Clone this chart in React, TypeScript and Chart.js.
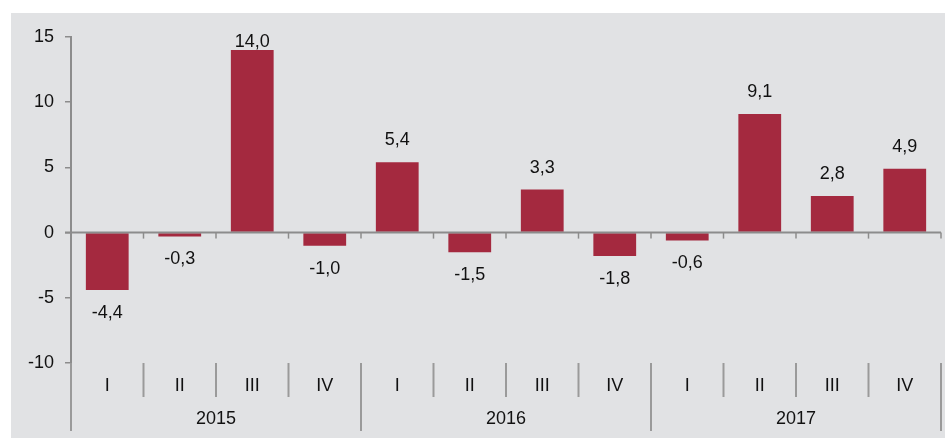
import React, { useEffect, useRef } from "react";
import { Chart, registerables } from "chart.js";

Chart.register(...registerables);

const years: string[] = ["2015", "2016", "2017"];
const quarters: string[] = ["I", "II", "III", "IV"];
const values: number[] = [-4.4, -0.3, 14.0, -1.0, 5.4, -1.5, 3.3, -1.8, -0.6, 9.1, 2.8, 4.9];
const yTicks: number[] = [-10, -5, 0, 5, 10, 15];

const FONT = '"Liberation Sans", Arial, Helvetica, sans-serif';
const BAR = "#a4293f";
const AXIS = "#8c8c8c";
const SEP = "#9a9a9a";
const TEXT = "#111111";
const BG = "#e1e2e4";

const labels: string[] = [];
years.forEach((y) => quarters.forEach((q) => labels.push(y + " " + q)));

const fmt = (v: number) => v.toFixed(1).replace(".", ",");

const decorPlugin = {
  id: "decor",
  beforeDraw(chart: any) {
    const { ctx, width, height } = chart;
    ctx.save();
    ctx.fillStyle = "#ffffff";
    ctx.fillRect(0, 0, width, height);
    ctx.fillStyle = BG;
    ctx.fillRect(11, 13, width - 11, height - 13);
    ctx.restore();
  },
  afterDatasetsDraw(chart: any) {
    const { ctx, chartArea, scales } = chart;
    const y0 = scales.y.getPixelForValue(0);
    const left = chartArea.left;
    const right = chartArea.right;
    const n = labels.length;
    const w = (right - left) / n;
    ctx.save();
    // zero line
    ctx.strokeStyle = AXIS;
    ctx.lineWidth = 2;
    ctx.beginPath();
    ctx.moveTo(65, y0);
    ctx.lineTo(right, y0);
    ctx.stroke();
    ctx.lineWidth = 1.5;
    for (let i = 1; i <= n; i++) {
      const x = left + i * w;
      ctx.beginPath();
      ctx.moveTo(x, y0);
      ctx.lineTo(x, y0 + 6);
      ctx.stroke();
    }
    // category axis
    const bottom = chartArea.bottom;
    ctx.strokeStyle = SEP;
    ctx.lineWidth = 2;
    for (let i = 0; i <= n; i++) {
      const x = left + i * w;
      const isYear = i % quarters.length === 0;
      ctx.beginPath();
      ctx.moveTo(x, bottom);
      ctx.lineTo(x, isYear ? bottom + 68 : bottom + 34);
      ctx.stroke();
    }
    ctx.fillStyle = TEXT;
    ctx.font = "18px " + FONT;
    ctx.textAlign = "center";
    ctx.textBaseline = "middle";
    for (let i = 0; i < n; i++) {
      ctx.fillText(quarters[i % quarters.length], left + (i + 0.5) * w, bottom + 23);
    }
    years.forEach((y, j) => {
      const cx = left + (j * quarters.length + quarters.length / 2) * w;
      ctx.fillText(y, cx, bottom + 56);
    });
    // data labels
    const meta = chart.getDatasetMeta(0);
    meta.data.forEach((bar: any, i: number) => {
      const v = values[i];
      let ly: number;
      if (v >= 0) {
        ly = Math.max(bar.y - 22, chartArea.top + 5.5);
      } else {
        ly = bar.y + 23;
      }
      ctx.fillText(fmt(v), bar.x, ly);
    });
    ctx.restore();
  },
};

export default function App() {
  const ref = useRef<HTMLCanvasElement | null>(null);
  useEffect(() => {
    if (!ref.current) return;
    const chart = new Chart(ref.current, {
      type: "bar",
      data: {
        labels,
        datasets: [
          {
            data: values,
            backgroundColor: BAR,
            borderWidth: 0,
            categoryPercentage: 1,
            barPercentage: 0.59,
          },
        ],
      },
      options: {
        animation: false,
        responsive: true,
        maintainAspectRatio: false,
        devicePixelRatio: 1,
        layout: { padding: { left: 0, top: 37, right: 4, bottom: 75 } },
        plugins: { legend: { display: false }, tooltip: { enabled: false } },
        scales: {
          x: { display: false },
          y: {
            min: -10,
            max: 15,
            afterFit: (scale: any) => {
              scale.width = 71;
            },
            afterBuildTicks: (scale: any) => {
              scale.ticks = yTicks.map((v) => ({ value: v }));
            },
            grid: {
              display: true,
              drawOnChartArea: false,
              drawTicks: true,
              tickLength: 6,
              color: AXIS,
              lineWidth: 1.5,
            },
            border: { display: true, color: AXIS, width: 2 },
            ticks: {
              padding: 11,
              color: TEXT,
              font: { size: 18, family: FONT },
            },
          },
        },
      },
      plugins: [decorPlugin],
    });
    return () => chart.destroy();
  }, []);
  return (
    <div style={{ position: "fixed", left: 0, top: 0, width: 945, height: 438 }}>
      <canvas ref={ref} />
    </div>
  );
}
